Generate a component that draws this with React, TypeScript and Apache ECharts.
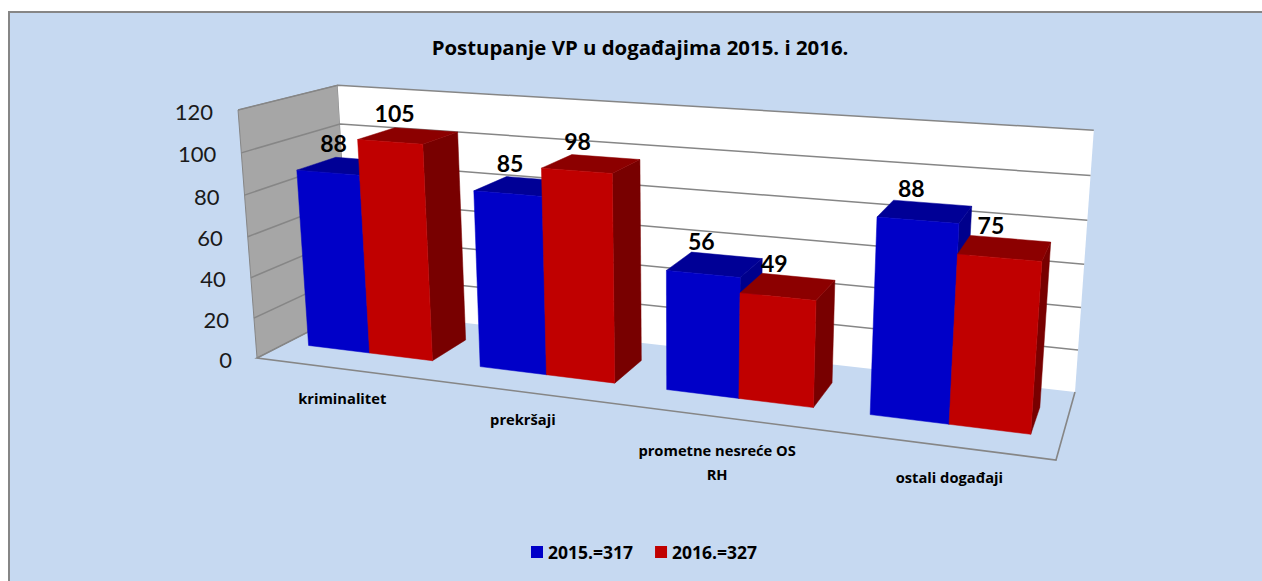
import React, { useEffect, useRef } from "react";
import * as echarts from "echarts";

const CATEGORIES = ["kriminalitet", "prekršaji", "prometne nesreće OS\nRH", "ostali događaji"];
const VALUES_2015 = [88, 85, 56, 88];
const VALUES_2016 = [105, 98, 49, 75];
const TICKS = [0, 20, 40, 60, 80, 100, 120];
const TITLE = "Postupanje VP u događajima 2015. i 2016.";
const NAME_2015 = "2015.=317";
const NAME_2016 = "2016.=327";

const FONT = "Lato, Carlito, 'Open Sans', sans-serif";
const WIDE_FONT = "'Open Sans', Lato, sans-serif";
const BG = "#C6D9F1";
const LINE = "#868686";

// plain hidden cartesian grid: the 3D box is a projective view of it
const G = { left: 100, top: 100, width: 800, height: 300 };

// floor corners in the picture and the vanishing point of the vertical edges
const FL = [257, 358], FR = [1056, 460], BR = [1075, 392], BL = [351, 310];
const VP = [680, 5890];
const FRONT_TOP_Y = 110;

const dx1 = FR[0] - BR[0], dx2 = BL[0] - BR[0], sx = FL[0] - FR[0] + BR[0] - BL[0];
const dy1 = FR[1] - BR[1], dy2 = BL[1] - BR[1], sy = FL[1] - FR[1] + BR[1] - BL[1];
const den = dx1 * dy2 - dx2 * dy1;
const hg = (sx * dy2 - dx2 * sy) / den;
const hh = (dx1 * sy - sx * dy1) / den;
const ha = FR[0] - FL[0] + hg * FR[0], hb = BL[0] - FL[0] + hh * BL[0], hc = FL[0];
const hd = FR[1] - FL[1] + hg * FR[1], he = BL[1] - FL[1] + hh * BL[1], hf = FL[1];
const ht = (FRONT_TOP_Y - FL[1]) / (VP[1] - FRONT_TOP_Y);

function P(u: number, v: number, w: number): number[] {
  const D = hg * u + hh * v + 1 + ht * w;
  return [
    (ha * u + hb * v + hc + ht * w * VP[0]) / D,
    (hd * u + he * v + hf + ht * w * VP[1]) / D,
  ];
}

const V_FRONT = 0.295, V_BACK = 0.7;
const BAR_PAD = 0.133; // share of a band left of the pair
const BAR_W = 0.365; // share of a band per bar
const LABEL_DX = -14, LABEL_DY = -23;
const CAT_NUDGE = [0, -1, -5, 10];
const CAT_DY = [17, 15, 21, 20];

function uOf(api: any, idx: number) {
  return (api.coord([idx, 0])[0] - G.left) / G.width;
}
function wOf(api: any, val: number) {
  return (G.top + G.height - api.coord([0, val])[1]) / G.height;
}
function bandU(api: any) {
  return api.size([1, 0])[0] / G.width;
}

function barSeries(name: string, values: number[], slot: number, front: string, top: string, side: string) {
  return {
    type: "custom",
    name,
    coordinateSystem: "cartesian2d",
    silent: true,
    itemStyle: { color: front },
    encode: { x: 0, y: 1 },
    data: values.map((v, i) => [i, v]),
    renderItem: (_p: any, api: any) => {
      const i = api.value(0);
      const val = api.value(1);
      const band = bandU(api);
      const uc = uOf(api, i);
      const u0 = uc - band / 2 + band * (BAR_PAD + BAR_W * slot);
      const u1 = u0 + band * BAR_W;
      const w = wOf(api, val);
      const poly = (pts: number[][], fill: string) => ({
        type: "polygon",
        shape: { points: pts },
        style: { fill, stroke: fill, lineWidth: 0.5 },
      });
      const lab = P((u0 + u1) / 2, 0.5, w);
      return {
        type: "group",
        children: [
          poly([P(u1, V_FRONT, 0), P(u1, V_BACK, 0), P(u1, V_BACK, w), P(u1, V_FRONT, w)], side),
          poly([P(u0, V_FRONT, w), P(u1, V_FRONT, w), P(u1, V_BACK, w), P(u0, V_BACK, w)], top),
          poly([P(u0, V_FRONT, 0), P(u1, V_FRONT, 0), P(u1, V_FRONT, w), P(u0, V_FRONT, w)], front),
          {
            type: "text",
            z2: 50,
            style: {
              text: String(val),
              x: lab[0] + LABEL_DX,
              y: lab[1] + LABEL_DY,
              align: "center",
              verticalAlign: "middle",
              font: `bold 23px ${FONT}`,
              fill: "#000",
            },
          },
        ],
      };
    },
  };
}

const wallSeries = {
  type: "custom",
  name: "walls",
  coordinateSystem: "cartesian2d",
  silent: true,
  encode: { x: 0, y: 1 },
  data: TICKS.map((t) => [0, t]),
  renderItem: (_p: any, api: any) => {
    const val = api.value(1);
    const w = wOf(api, val);
    const children: any[] = [];
    if (val === TICKS[0]) {
      children.push({
        type: "polygon",
        shape: { points: [P(0, 0, 0), P(0, 1, 0), P(0, 1, 1), P(0, 0, 1)] },
        style: { fill: "#A6A6A6", stroke: LINE, lineWidth: 1 },
      });
      children.push({
        type: "polygon",
        shape: { points: [P(0, 1, 0), P(1, 1, 0), P(1, 1, 1), P(0, 1, 1)] },
        style: { fill: "#FFFFFF" },
      });
      children.push({
        type: "polyline",
        shape: { points: [P(0, 1, 0), P(0, 0, 0), P(1, 0, 0), P(1, 1, 0)] },
        style: { fill: "none", stroke: LINE, lineWidth: 1.6 },
      });
    } else {
      children.push({
        type: "polyline",
        shape: { points: [P(0, 0, w), P(0, 1, w), P(1, 1, w)] },
        style: { fill: "none", stroke: LINE, lineWidth: 1.5 },
      });
    }
    const a = P(0, 0, w);
    children.push({
      type: "text",
      style: {
        text: String(val),
        x: a[0] - 25,
        y: a[1] + 1,
        align: "right",
        verticalAlign: "middle",
        font: `22px ${FONT}`,
        fill: "#1a1a1a",
      },
    });
    return { type: "group", children };
  },
};

const categorySeries = {
  type: "custom",
  name: "categories",
  coordinateSystem: "cartesian2d",
  silent: true,
  encode: { x: 0, y: 1 },
  data: CATEGORIES.map((_c, i) => [i, 0]),
  renderItem: (_p: any, api: any) => {
    const i = api.value(0);
    const a = P(uOf(api, i), 0, 0);
    return {
      type: "text",
      style: {
        text: CATEGORIES[i],
        x: a[0] + CAT_NUDGE[i],
        y: a[1] + CAT_DY[i],
        align: "center",
        verticalAlign: "top",
        lineHeight: 24,
        font: `bold 14.7px ${WIDE_FONT}`,
        fill: "#000",
      },
    };
  },
};

export default function App() {
  const ref = useRef<HTMLDivElement>(null);
  useEffect(() => {
    document.body.style.margin = "0";
    const chart = echarts.init(ref.current!, null, { renderer: "svg" });
    chart.setOption({
      animation: false,
      backgroundColor: "#FFFFFF",
      title: {
        text: TITLE,
        left: 635,
        top: 32,
        textAlign: "center",
        textStyle: { fontFamily: WIDE_FONT, fontWeight: "bold", fontSize: 20.4, color: "#000" },
      },
      graphic: [
        {
          type: "rect",
          z: -10,
          shape: { x: 9, y: 12, width: 1300, height: 620 },
          style: { fill: BG, stroke: LINE, lineWidth: 2 },
        },
      ],
      legend: {
        data: [NAME_2015, NAME_2016],
        left: 526,
        top: 538,
        icon: "rect",
        itemWidth: 12,
        itemHeight: 12,
        itemGap: 22,
        selectedMode: false,
        textStyle: { fontFamily: WIDE_FONT, fontWeight: "bold", fontSize: 17.5, color: "#000" },
      },
      grid: { left: G.left, top: G.top, width: G.width, height: G.height },
      xAxis: { type: "category", data: CATEGORIES, show: false },
      yAxis: { type: "value", min: 0, max: 120, interval: 20, show: false },
      series: [
        wallSeries,
        categorySeries,
        barSeries(NAME_2015, VALUES_2015, 0, "#0000C8", "#000096", "#00008C"),
        barSeries(NAME_2016, VALUES_2016, 1, "#C00000", "#8C0000", "#780000"),
      ],
    });
    return () => chart.dispose();
  }, []);
  return <div ref={ref} style={{ width: 1262, height: 581 }} />;
}
